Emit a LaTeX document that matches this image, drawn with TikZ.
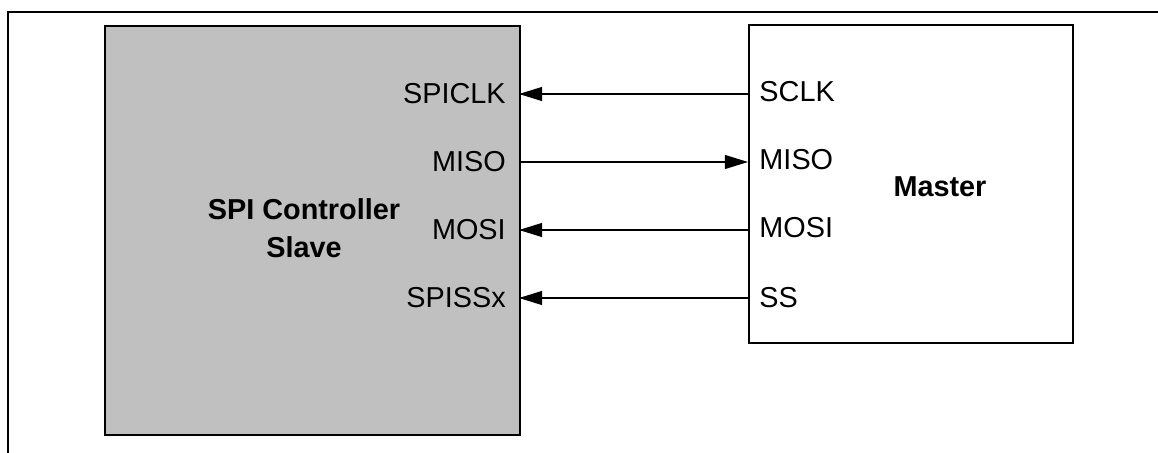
\documentclass[tikz,border=0pt]{standalone}
\usepackage{fontspec}
\setmainfont{Liberation Sans}
\usetikzlibrary{positioning,arrows.meta}
\definecolor{slavegray}{HTML}{C0C0C0}

\begin{document}
\begin{tikzpicture}[
  font=\fontsize{20.5}{27}\selectfont,
  blk/.style={draw,line width=1.2pt,inner sep=0pt,anchor=north west},
  pin/.style={inner sep=0pt},
  >={Triangle[length=5.8mm,width=3.5mm]},
  sig/.style={line width=0.9pt}
]
\useasboundingbox (0,0) rectangle (28.95,-11.325);
% ---------------- frame (cut at right and bottom) ----------------
\draw[line width=1.4pt] (0.2,-11.6) -- (0.2,-0.3) -- (29.2,-0.3);

% ---------------- blocks ----------------
\node[blk,fill=slavegray,minimum width=10.375cm,minimum height=10.225cm] (slave) at (2.6,-0.625) {};
\node[blk,minimum width=8.1cm,minimum height=7.95cm] (master) at (18.7,-0.6) {};
\node[font=\fontsize{20.5}{27}\selectfont\bfseries,align=center] (slavename) at (7.6,-5.7) {SPI Controller\\Slave};
\node[font=\fontsize{20.5}{27}\selectfont\bfseries] (mastername) at (23.5,-4.68) {Master};

% ---------------- pins ----------------
\coordinate (sclk) at (12.975,-2.35);
\coordinate (miso) at (12.975,-4.05);
\coordinate (mosi) at (12.975,-5.75);
\coordinate (ss)   at (12.975,-7.45);
\coordinate (mclk)  at (18.7,-2.35);
\coordinate (mmiso) at (18.7,-4.05);
\coordinate (mmosi) at (18.7,-5.75);
\coordinate (mss)   at (18.7,-7.45);

\node[pin,anchor=east] (lsclk) at (12.65,-2.35) {SPICLK};
\node[pin,anchor=east] (lmiso) at (12.65,-4.05) {MISO};
\node[pin,anchor=east] (lmosi) at (12.65,-5.75) {MOSI};
\node[pin,anchor=east] (lss)   at (12.65,-7.45) {SPISSx};
\node[pin,anchor=west] (lmclk)  at (18.98,-2.3) {SCLK};
\node[pin,anchor=west] (lmmiso) at (18.98,-4.0) {MISO};
\node[pin,anchor=west] (lmmosi) at (18.98,-5.7) {MOSI};
\node[pin,anchor=west] (lmss)   at (18.98,-7.45) {SS};

% ---------------- signals ----------------
\draw[sig,->] (mclk)  -- (sclk);
\draw[sig,->] (miso)  -- (mmiso);
\draw[sig,->] (mmosi) -- (mosi);
\draw[sig,->] (mss)   -- (ss);
\end{tikzpicture}
\end{document}
